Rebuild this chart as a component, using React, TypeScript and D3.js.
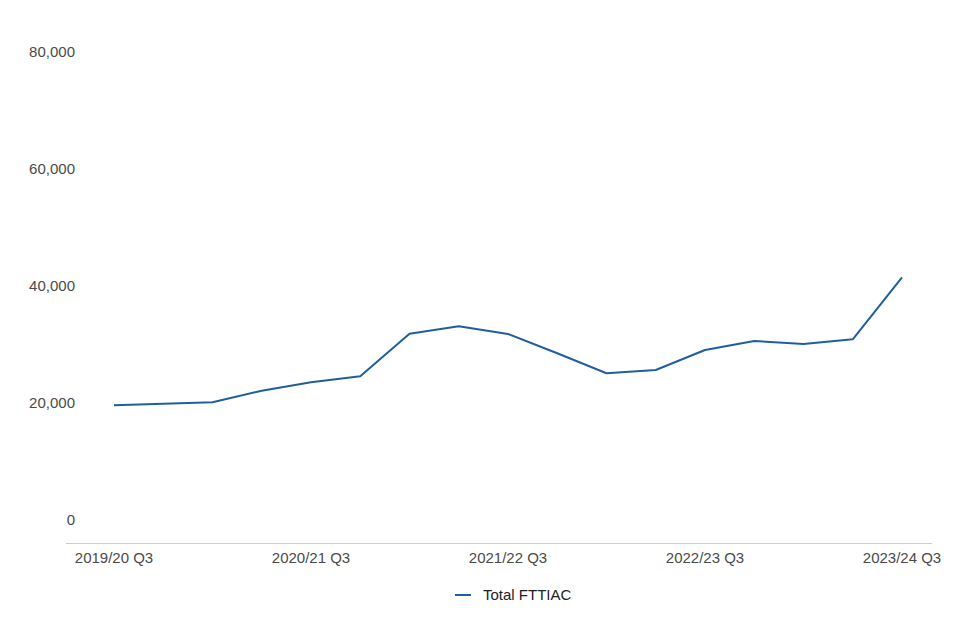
import React from "react";
import * as d3 from "d3";

const categories: string[] = [
  "2019/20 Q3", "2019/20 Q4", "2020/21 Q1", "2020/21 Q2",
  "2020/21 Q3", "2020/21 Q4", "2021/22 Q1", "2021/22 Q2",
  "2021/22 Q3", "2021/22 Q4", "2022/23 Q1", "2022/23 Q2",
  "2022/23 Q3", "2022/23 Q4", "2023/24 Q1", "2023/24 Q2",
  "2023/24 Q3",
];
const totalFTTIAC: number[] = [
  19610, 19860, 20120, 22100, 23540, 24560, 31850, 33110, 31800,
  28500, 25080, 25640, 29060, 30600, 30090, 30890, 41490,
];
const yTicks: number[] = [0, 20000, 40000, 60000, 80000];
const xTickLabels: string[] = ["2019/20 Q3", "2020/21 Q3", "2021/22 Q3", "2022/23 Q3", "2023/24 Q3"];
const seriesName = "Total FTTIAC";

const W = 960;
const H = 640;
const FONT = "'Liberation Sans', Arial, Helvetica, sans-serif";
const COLOR = "#1f5f9f";

export default function App() {
  const x = d3.scaleLinear().domain([0, categories.length - 1]).range([114, 902]);
  const y = d3.scaleLinear().domain([0, 80000]).range([520, 52]);
  const line = d3
    .line<number>()
    .x((_, i) => x(i))
    .y((d) => y(d));
  const fmt = d3.format(",");

  return (
    <svg
      width={W}
      height={H}
      style={{ position: "absolute", left: 0, top: 0, background: "#fff" }}
      fontFamily={FONT}
    >
      {yTicks.map((t) => (
        <text
          key={t}
          x={75}
          y={y(t)}
          dy="0.35em"
          textAnchor="end"
          fontSize={15}
          fill="#4a4a4a"
        >
          {fmt(t)}
        </text>
      ))}
      <line x1={66} x2={932} y1={543.5} y2={543.5} stroke="#ccc" strokeWidth={1} />
      {xTickLabels.map((lab) => {
        const i = categories.indexOf(lab);
        return (
          <text key={lab} x={x(i)} y={558} dy="0.35em" textAnchor="middle" fontSize={15} fill="#4a4a4a">
            {lab}
          </text>
        );
      })}
      <path d={line(totalFTTIAC) || ""} fill="none" stroke={COLOR} strokeWidth={2} strokeLinejoin="round" />
      <line x1={455} x2={471} y1={595} y2={595} stroke={COLOR} strokeWidth={2} />
      <text x={483} y={595} dy="0.35em" fontSize={15} fill="#222">
        {seriesName}
      </text>
    </svg>
  );
}
